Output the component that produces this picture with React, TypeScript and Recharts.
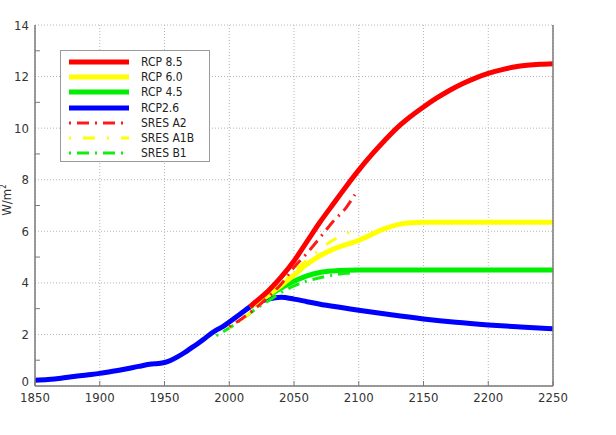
import {
  CartesianGrid,
  Legend,
  Line,
  LineChart,
  XAxis,
  YAxis,
} from "recharts";

// radiative forcing, W/m2
const rcp26Years = [1850, 1860, 1870, 1880, 1890, 1900, 1910, 1920, 1930, 1940, 1945, 1950, 1955, 1960, 1965, 1970, 1975, 1980, 1985, 1990, 1995, 2000, 2010, 2016, 2020, 2030, 2040, 2050, 2060, 2075, 2100, 2125, 2150, 2175, 2200, 2225, 2250];
const rcp26Values = [0.22, 0.25, 0.3, 0.37, 0.43, 0.49, 0.57, 0.66, 0.76, 0.85, 0.87, 0.91, 1.0, 1.13, 1.28, 1.45, 1.62, 1.8, 2.0, 2.17, 2.3, 2.48, 2.85, 3.07, 3.2, 3.37, 3.44, 3.37, 3.27, 3.13, 2.94, 2.76, 2.6, 2.47, 2.37, 2.29, 2.22];

const rcpYears = [2016, 2020, 2030, 2040, 2050, 2060, 2070, 2080, 2090, 2100, 2110, 2120, 2130, 2140, 2150, 2160, 2170, 2180, 2190, 2200, 2210, 2220, 2230, 2240, 2250];
const rcp85Values = [3.07, 3.25, 3.68, 4.22, 4.85, 5.6, 6.35, 7.04, 7.72, 8.37, 8.97, 9.52, 10.03, 10.45, 10.82, 11.16, 11.46, 11.72, 11.94, 12.12, 12.26, 12.37, 12.44, 12.48, 12.5];
const rcp60Values = [3.07, 3.2, 3.52, 3.9, 4.3, 4.72, 5.05, 5.3, 5.48, 5.65, 5.88, 6.1, 6.26, 6.33, 6.35, 6.35, 6.35, 6.35, 6.35, 6.35, 6.35, 6.35, 6.35, 6.35, 6.35];
const rcp45Values = [3.07, 3.2, 3.5, 3.8, 4.06, 4.27, 4.4, 4.46, 4.49, 4.5, 4.5, 4.5, 4.5, 4.5, 4.5, 4.5, 4.5, 4.5, 4.5, 4.5, 4.5, 4.5, 4.5, 4.5, 4.5];

const sresYears = [2000, 2010, 2020, 2030, 2040, 2050, 2060, 2070, 2080, 2090, 2097];
const sresA2Values = [2.3, 2.62, 3.0, 3.45, 3.95, 4.6, 5.15, 5.75, 6.37, 6.9, 7.42];
const sresA1BValues = [2.25, 2.6, 3.0, 3.45, 3.95, 4.45, 4.88, 5.3, 5.65, 5.9, 6.02];
const sresB1Years = [1990, 2000, 2010, 2020, 2030, 2040, 2050, 2060, 2070, 2080, 2090, 2097];
const sresB1Values = [1.95, 2.25, 2.6, 2.97, 3.3, 3.62, 3.88, 4.07, 4.2, 4.3, 4.37, 4.4];

const xTicks = [1850, 1900, 1950, 2000, 2050, 2100, 2150, 2200, 2250];
const yTicks = [0, 1, 2, 3, 4, 5, 6, 7, 8, 9, 10, 11, 12, 13, 14];
const yGridValues = [0, 2, 4, 6, 8, 10, 12, 14];
const minorYTicks = [1, 3, 5, 7, 9, 11, 13];

const toRows = (years: number[], values: number[]) =>
  years.map((year, i) => ({ year, value: values[i] }));

const series = [
  { name: "RCP 8.5", color: "#ff0000", data: toRows(rcpYears, rcp85Values), dash: "" },
  { name: "RCP 6.0", color: "#ffff00", data: toRows(rcpYears, rcp60Values), dash: "" },
  { name: "RCP 4.5", color: "#00ee00", data: toRows(rcpYears, rcp45Values), dash: "" },
  { name: "RCP2.6", color: "#0000ff", data: toRows(rcp26Years, rcp26Values), dash: "" },
  { name: "SRES A2", color: "#ff1a1a", data: toRows(sresYears, sresA2Values), dash: "2 6 12 6" },
  { name: "SRES A1B", color: "#ffff00", data: toRows(sresYears, sresA1BValues), dash: "2 12 12 12" },
  { name: "SRES B1", color: "#11ee11", data: toRows(sresB1Years, sresB1Values), dash: "2 6 12 6" },
];

// draw order: solids first, blue at the back
const drawOrder = ["RCP2.6", "RCP 4.5", "RCP 6.0", "RCP 8.5", "SRES B1", "SRES A1B", "SRES A2"];

const axisColor = "#7a7a7a";
const textColor = "#333";

function LeftTick(props: any) {
  const { x, y, payload } = props;
  const v = payload.value;
  const major = v % 2 === 0;
  return (
    <g>
      {!major && <line x1={x + 6} x2={x + 11} y1={y} y2={y} stroke={axisColor} strokeWidth={1} />}
      {major && (
        <text x={x} y={y} dy={v === 0 ? "0em" : "0.35em"} textAnchor="end" fill={textColor} fontSize={13}>
          {v}
        </text>
      )}
    </g>
  );
}

function RightTick(props: any) {
  const { x, y } = props;
  return <line x1={x} x2={x - 5} y1={y} y2={y} stroke={axisColor} strokeWidth={1} />;
}

function BottomTick(props: any) {
  const { x, y, payload } = props;
  return (
    <g>
      <line x1={x} x2={x} y1={y - 6} y2={y - 11} stroke={axisColor} strokeWidth={1} />
      <text x={x} y={y} dy="0.8em" textAnchor="middle" fill={textColor} fontSize={13}>
        {payload.value}
      </text>
    </g>
  );
}

function TopTick(props: any) {
  const { x, y } = props;
  return <line x1={x} x2={x} y1={y} y2={y + 5} stroke={axisColor} strokeWidth={1} />;
}

function LegendBox() {
  return (
    <div
      style={{
        border: "1px solid #9a9a9a",
        background: "#fff",
        padding: "3px 0 3px 0",
        boxSizing: "border-box",
        width: 150,
        height: 112,
      }}
    >
      {series.map((s) => (
        <div key={s.name} style={{ display: "flex", alignItems: "center", height: 15.3 }}>
          <svg width={74} height={10} style={{ marginLeft: 6 }}>
            <line
              x1={2}
              x2={62}
              y1={5}
              y2={5}
              stroke={s.color}
              strokeWidth={s.dash ? 3 : 5}
              strokeDasharray={s.dash || undefined}
            />
          </svg>
          <span style={{ fontSize: 12, color: "#222", lineHeight: "12px" }}>{s.name}</span>
        </div>
      ))}
    </div>
  );
}

export default function App() {
  return (
    <div
      style={{
        position: "absolute",
        left: 0,
        top: 0,
        width: 616,
        height: 435,
        background: "#fff",
        fontFamily: "'DejaVu Sans Condensed', 'Liberation Sans', sans-serif",
      }}
    >
      <LineChart width={616} height={435} margin={{ top: 25, right: 53, bottom: 19, left: 0 }}>
        <CartesianGrid
          stroke="#b5b5b5"
          strokeDasharray="1 2"
          horizontalValues={yGridValues}
          verticalValues={xTicks}
        />
        <XAxis
          dataKey="year"
          type="number"
          domain={[1850, 2250]}
          ticks={xTicks}
          allowDataOverflow
          height={30}
          tickSize={0}
          tickMargin={6}
          tickLine={false}
          axisLine={{ stroke: axisColor, strokeWidth: 1.5 }}
          tick={<BottomTick />}
        />
        <XAxis
          xAxisId="top"
          orientation="top"
          dataKey="year"
          type="number"
          domain={[1850, 2250]}
          ticks={xTicks}
          allowDataOverflow
          height={0}
          tickSize={0}
          tickMargin={0}
          tickLine={false}
          axisLine={{ stroke: axisColor, strokeWidth: 1.5 }}
          tick={<TopTick />}
        />
        <YAxis
          type="number"
          domain={[0, 14]}
          ticks={yTicks}
          interval={0}
          allowDataOverflow
          width={35}
          tickSize={0}
          tickMargin={6}
          tickLine={false}
          axisLine={{ stroke: axisColor, strokeWidth: 1.5 }}
          tick={<LeftTick />}
          label={{
            content: () => (
              <text transform="translate(11,200) rotate(-90)" textAnchor="middle" fill={textColor} fontSize={13}>
                W/m<tspan dy={-5} fontSize={8}>2</tspan>
              </text>
            ),
          }}
        />
        <YAxis
          yAxisId="right"
          orientation="right"
          type="number"
          domain={[0, 14]}
          ticks={minorYTicks}
          interval={0}
          width={10}
          tickSize={0}
          tickMargin={0}
          tickLine={false}
          axisLine={{ stroke: axisColor, strokeWidth: 1.5 }}
          tick={<RightTick />}
        />
        {drawOrder.map((name) => {
          const s = series.find((item) => item.name === name)!;
          return (
            <Line
              key={s.name}
              data={s.data}
              dataKey="value"
              name={s.name}
              type="monotone"
              stroke={s.color}
              strokeWidth={s.dash ? 3 : 5}
              strokeDasharray={s.dash || undefined}
              dot={false}
              activeDot={false}
              isAnimationActive={false}
            />
          );
        })}
        <Legend
          layout="vertical"
          align="center"
          verticalAlign="middle"
          content={<LegendBox />}
          wrapperStyle={{ left: 60, top: 50, width: 150, height: 112 }}
        />
      </LineChart>
    </div>
  );
}
